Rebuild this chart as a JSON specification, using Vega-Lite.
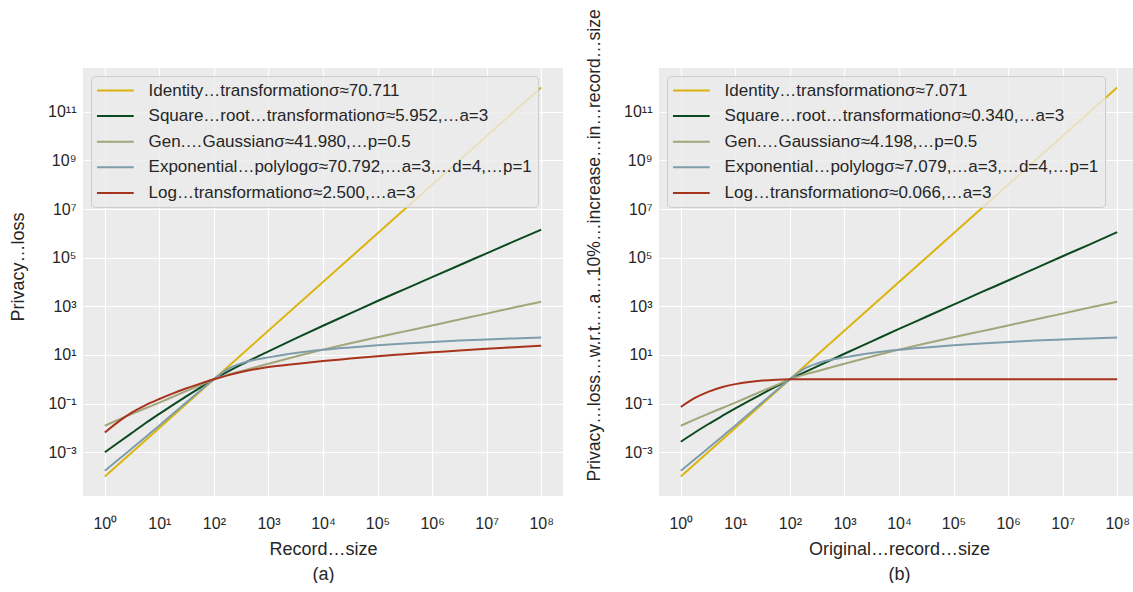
{
  "$schema": "https://vega.github.io/schema/vega-lite/v6.json",
  "background": "white",
  "padding": {"left": 9, "top": 8, "right": 0, "bottom": 0},
  "config": {
    "view": {"fill": "#ebebeb", "stroke": null},
    "axis": {
      "grid": true, "gridColor": "white", "gridWidth": 1.2, "domain": false, "ticks": false, "tickSize": 0,
      "labelFont": "Liberation Sans", "labelFontSize": 16, "labelColor": "#262626",
      "titleFont": "Liberation Sans", "titleFontSize": 18, "titleFontWeight": "normal", "titleColor": "#262626"
    },
    "legend": {
      "orient": "none", "legendX": 8, "legendY": 8, "title": null,
      "fillColor": "rgba(235,235,235,0.8)", "strokeColor": "#cccccc", "cornerRadius": 4, "padding": 6,
      "labelFont": "Liberation Sans", "labelFontSize": 17, "labelColor": "#262626", "labelLimit": 0,
      "symbolType": "M-3,0H3", "symbolSize": 150, "symbolStrokeWidth": 2, "symbolOffset": 9.85,
      "rowPadding": 7.6, "labelOffset": 24.7
    },
    "line": {"strokeWidth": 2, "interpolate": "monotone"}
  },
  "datasets": {
    "a": [
      {"s":"A","x":1,"y":0.0001},{"s":"A","x":100,"y":1},{"s":"A","x":100000000,"y":1000000000000},
      {"s":"B","x":1,"y":0.001},{"s":"B","x":1.778,"y":0.0025119},{"s":"B","x":3.162,"y":0.0063096},{"s":"B","x":5.623,"y":0.015849},{"s":"B","x":10,"y":0.038019},{"s":"B","x":17.78,"y":0.089125},{"s":"B","x":31.62,"y":0.20417},{"s":"B","x":56.23,"y":0.45709},{"s":"B","x":100,"y":1},{"s":"B","x":316.2,"y":3.9811},{"s":"B","x":1000,"y":14.125},{"s":"B","x":3162,"y":47.863},{"s":"B","x":10000,"y":158.49},{"s":"B","x":31623,"y":512.86},{"s":"B","x":100000,"y":1659.6},{"s":"B","x":316228,"y":5128.6},{"s":"B","x":1000000,"y":15849},{"s":"B","x":3162278,"y":48978},{"s":"B","x":10000000,"y":151356},{"s":"B","x":31622777,"y":467740},{"s":"B","x":100000000,"y":1412538},
      {"s":"C","x":1,"y":0.012303},{"s":"C","x":1.778,"y":0.021878},{"s":"C","x":3.162,"y":0.038019},{"s":"C","x":5.623,"y":0.064565},{"s":"C","x":10,"y":0.10965},{"s":"C","x":17.78,"y":0.19055},{"s":"C","x":31.62,"y":0.33113},{"s":"C","x":56.23,"y":0.57544},{"s":"C","x":100,"y":1},{"s":"C","x":177.8,"y":1.5136},{"s":"C","x":316.2,"y":2.138},{"s":"C","x":1000,"y":4.3652},{"s":"C","x":3162,"y":8.7096},{"s":"C","x":10000,"y":16.596},{"s":"C","x":31623,"y":30.2},{"s":"C","x":100000,"y":53.703},{"s":"C","x":316228,"y":93.325},{"s":"C","x":1000000,"y":162.18},{"s":"C","x":3162278,"y":288.4},{"s":"C","x":10000000,"y":501.19},{"s":"C","x":31622777,"y":891.25},{"s":"C","x":100000000,"y":1548.8},
      {"s":"D","x":1,"y":0.00017378},{"s":"D","x":1.778,"y":0.00050119},{"s":"D","x":3.162,"y":0.0014454},{"s":"D","x":5.623,"y":0.0042658},{"s":"D","x":10,"y":0.012589},{"s":"D","x":17.78,"y":0.038019},{"s":"D","x":31.62,"y":0.11482},{"s":"D","x":56.23,"y":0.34674},{"s":"D","x":100,"y":1},{"s":"D","x":177.8,"y":2.6303},{"s":"D","x":316.2,"y":4.4668},{"s":"D","x":562.3,"y":6.3096},{"s":"D","x":1000,"y":7.9433},{"s":"D","x":3162,"y":12.023},{"s":"D","x":10000,"y":16.218},{"s":"D","x":31623,"y":20.417},{"s":"D","x":100000,"y":25.119},{"s":"D","x":316228,"y":29.512},{"s":"D","x":1000000,"y":33.884},{"s":"D","x":3162278,"y":38.905},{"s":"D","x":10000000,"y":43.652},{"s":"D","x":31622777,"y":47.863},{"s":"D","x":100000000,"y":52.481},
      {"s":"E","x":1,"y":0.0064565},{"s":"E","x":1.778,"y":0.018197},{"s":"E","x":3.162,"y":0.043652},{"s":"E","x":5.623,"y":0.087096},{"s":"E","x":10,"y":0.15488},{"s":"E","x":17.78,"y":0.26303},{"s":"E","x":31.62,"y":0.42658},{"s":"E","x":56.23,"y":0.66069},{"s":"E","x":100,"y":1},{"s":"E","x":177.8,"y":1.4454},{"s":"E","x":316.2,"y":1.9953},{"s":"E","x":1000,"y":3.1623},{"s":"E","x":3162,"y":4.2658},{"s":"E","x":10000,"y":5.6234},{"s":"E","x":31623,"y":7.0795},{"s":"E","x":100000,"y":8.9125},{"s":"E","x":316228,"y":10.715},{"s":"E","x":1000000,"y":12.882},{"s":"E","x":3162278,"y":15.136},{"s":"E","x":10000000,"y":18.197},{"s":"E","x":31622777,"y":20.893},{"s":"E","x":100000000,"y":23.988}
    ],
    "b": [
      {"s":"A","x":1,"y":0.0001},{"s":"A","x":100,"y":1},{"s":"A","x":100000000,"y":1000000000000},
      {"s":"B","x":1,"y":0.0026915},{"s":"B","x":1.778,"y":0.0063096},{"s":"B","x":3.162,"y":0.014125},{"s":"B","x":5.623,"y":0.0302},{"s":"B","x":10,"y":0.063096},{"s":"B","x":17.78,"y":0.12882},{"s":"B","x":31.62,"y":0.25704},{"s":"B","x":56.23,"y":0.51286},{"s":"B","x":100,"y":1},{"s":"B","x":316.2,"y":3.3884},{"s":"B","x":1000,"y":11.22},{"s":"B","x":3162,"y":36.308},{"s":"B","x":10000,"y":117.49},{"s":"B","x":31623,"y":371.54},{"s":"B","x":100000,"y":1174.9},{"s":"B","x":316228,"y":3715.4},{"s":"B","x":1000000,"y":11482},{"s":"B","x":3162278,"y":36308},{"s":"B","x":10000000,"y":114815},{"s":"B","x":31622777,"y":354813},{"s":"B","x":100000000,"y":1122018},
      {"s":"C","x":1,"y":0.012303},{"s":"C","x":1.778,"y":0.021878},{"s":"C","x":3.162,"y":0.038019},{"s":"C","x":5.623,"y":0.064565},{"s":"C","x":10,"y":0.10965},{"s":"C","x":17.78,"y":0.19055},{"s":"C","x":31.62,"y":0.33113},{"s":"C","x":56.23,"y":0.57544},{"s":"C","x":100,"y":1},{"s":"C","x":177.8,"y":1.5136},{"s":"C","x":316.2,"y":2.138},{"s":"C","x":1000,"y":4.3652},{"s":"C","x":3162,"y":8.7096},{"s":"C","x":10000,"y":16.596},{"s":"C","x":31623,"y":30.2},{"s":"C","x":100000,"y":53.703},{"s":"C","x":316228,"y":93.325},{"s":"C","x":1000000,"y":162.18},{"s":"C","x":3162278,"y":288.4},{"s":"C","x":10000000,"y":501.19},{"s":"C","x":31622777,"y":891.25},{"s":"C","x":100000000,"y":1548.8},
      {"s":"D","x":1,"y":0.00017378},{"s":"D","x":1.778,"y":0.00050119},{"s":"D","x":3.162,"y":0.0014454},{"s":"D","x":5.623,"y":0.0042658},{"s":"D","x":10,"y":0.012589},{"s":"D","x":17.78,"y":0.038019},{"s":"D","x":31.62,"y":0.11482},{"s":"D","x":56.23,"y":0.34674},{"s":"D","x":100,"y":1},{"s":"D","x":177.8,"y":2.6303},{"s":"D","x":316.2,"y":4.4668},{"s":"D","x":562.3,"y":6.3096},{"s":"D","x":1000,"y":7.9433},{"s":"D","x":3162,"y":12.023},{"s":"D","x":10000,"y":16.218},{"s":"D","x":31623,"y":20.417},{"s":"D","x":100000,"y":25.119},{"s":"D","x":316228,"y":29.512},{"s":"D","x":1000000,"y":33.884},{"s":"D","x":3162278,"y":38.905},{"s":"D","x":10000000,"y":43.652},{"s":"D","x":31622777,"y":47.863},{"s":"D","x":100000000,"y":52.481},
      {"s":"E","x":1,"y":0.072444},{"s":"E","x":1.778,"y":0.16596},{"s":"E","x":3.162,"y":0.302},{"s":"E","x":5.623,"y":0.46774},{"s":"E","x":10,"y":0.63096},{"s":"E","x":17.78,"y":0.77625},{"s":"E","x":31.62,"y":0.89125},{"s":"E","x":56.23,"y":0.966},{"s":"E","x":100,"y":1},{"s":"E","x":1000,"y":1},{"s":"E","x":100000000,"y":1}
    ]
  },
  "hconcat": [
    {
      "width": 480, "height": 428,
      "data": {"name": "a"},
      "mark": {"type": "line"},
      "encoding": {
        "x": {"field": "x", "type": "quantitative",
          "scale": {"type": "log", "domain": [0.39811, 251188643], "nice": false},
          "axis": {"values": [1,10,100,1000,10000,100000,1000000,10000000,100000000],
            "labelExpr": "['10⁰','10¹','10²','10³','10⁴','10⁵','10⁶','10⁷','10⁸'][round(log(datum.value)/LN10)]",
            "labelPadding": 19, "title": ["Record…size", "(a)"], "titleLineHeight": 25, "titlePadding": 9}},
        "y": {"field": "y", "type": "quantitative",
          "scale": {"type": "log", "domain": [0.000015849, 6309573444801], "nice": false},
          "axis": {"values": [0.001,0.1,10,1000,100000,10000000,1000000000,100000000000],
            "labelExpr": "['10⁻³','10⁻¹','10¹','10³','10⁵','10⁷','10⁹','10¹¹'][round((log(datum.value)/LN10+3)/2)]",
            "labelPadding": 7, "title": "Privacy…loss", "titleAlign": "left", "titleBaseline": "alphabetic", "titleX": -60, "titleY": 253}},
        "color": {"field": "s", "type": "nominal",
          "scale": {"domain": ["A","B","C","D","E"], "range": ["#dbb40c","#0b4a20","#a3a57a","#7e9dab","#a8331c"]},
          "legend": {"labelExpr": "{'A':'Identity…transformationσ≈70.711','B':'Square…root…transformationσ≈5.952,…a=3','C':'Gen.…Gaussianσ≈41.980,…p=0.5','D':'Exponential…polylogσ≈70.792,…a=3,…d=4,…p=1','E':'Log…transformationσ≈2.500,…a=3'}[datum.label]"}}
      }
    },
    {
      "width": 480, "height": 428,
      "data": {"name": "b"},
      "mark": {"type": "line"},
      "encoding": {
        "x": {"field": "x", "type": "quantitative",
          "scale": {"type": "log", "domain": [0.39811, 251188643], "nice": false},
          "axis": {"values": [1,10,100,1000,10000,100000,1000000,10000000,100000000],
            "labelExpr": "['10⁰','10¹','10²','10³','10⁴','10⁵','10⁶','10⁷','10⁸'][round(log(datum.value)/LN10)]",
            "labelPadding": 19, "title": ["Original…record…size", "(b)"], "titleLineHeight": 25, "titlePadding": 9}},
        "y": {"field": "y", "type": "quantitative",
          "scale": {"type": "log", "domain": [0.000015849, 6309573444801], "nice": false},
          "axis": {"values": [0.001,0.1,10,1000,100000,10000000,1000000000,100000000000],
            "labelExpr": "['10⁻³','10⁻¹','10¹','10³','10⁵','10⁷','10⁹','10¹¹'][round((log(datum.value)/LN10+3)/2)]",
            "labelPadding": 7, "title": "Privacy…loss…w.r.t.…a…10%…increase…in…record…size", "titleFontSize": 17.6, "titleAlign": "left", "titleBaseline": "alphabetic", "titleX": -60, "titleY": 413}},
        "color": {"field": "s", "type": "nominal",
          "scale": {"domain": ["A","B","C","D","E"], "range": ["#dbb40c","#0b4a20","#a3a57a","#7e9dab","#a8331c"]},
          "legend": {"labelExpr": "{'A':'Identity…transformationσ≈7.071','B':'Square…root…transformationσ≈0.340,…a=3','C':'Gen.…Gaussianσ≈4.198,…p=0.5','D':'Exponential…polylogσ≈7.079,…a=3,…d=4,…p=1','E':'Log…transformationσ≈0.066,…a=3'}[datum.label]"}}
      }
    }
  ],
  "spacing": 96,
  "bounds": "flush",
  "resolve": {"scale": {"color": "independent", "x": "independent", "y": "independent"}, "legend": {"color": "independent"}}
}
